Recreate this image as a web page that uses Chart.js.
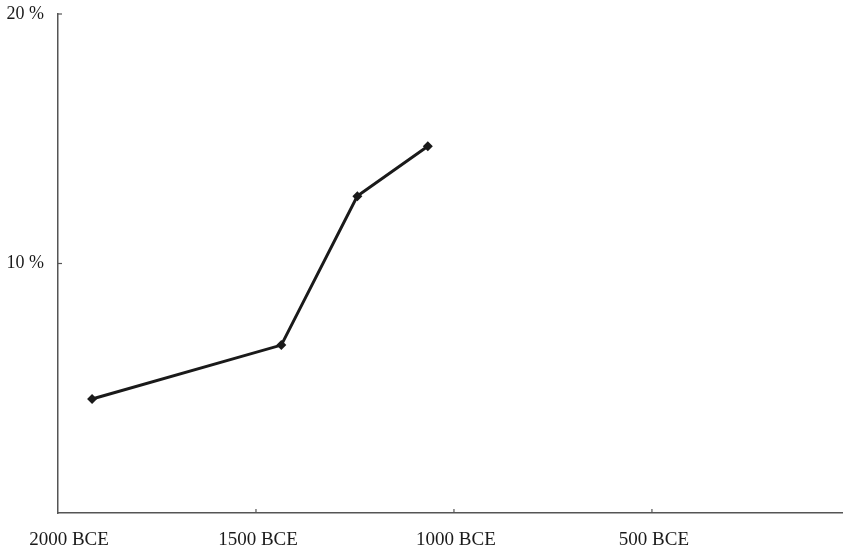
<!DOCTYPE html>
<html>
<head>
<meta charset="utf-8">
<script src="https://cdn.jsdelivr.net/npm/chart.js@4"></script>
<style>
  html, body { margin: 0; padding: 0; background: #fff; }
  #wrap { width: 847px; height: 550px; }
</style>
</head>
<body>
<div id="wrap"><canvas id="chart"></canvas></div>
<script>
// data (year, negative = BCE)
const years = [-1914, -1436, -1244, -1066];
const shares = [4.57, 6.73, 12.7, 14.7];
const xTicks = [-2000, -1500, -1000, -500];
const yTicks = [10, 20];

const serif = '"Liberation Serif", "Times New Roman", serif';

// inward tick marks + x labels drawn through the scales
const axisExtras = {
  id: 'axisExtras',
  afterDraw(chart) {
    const ctx = chart.ctx;
    const xs = chart.scales.x, ys = chart.scales.y;
    const area = chart.chartArea;
    ctx.save();
    ctx.strokeStyle = '#555';
    ctx.lineWidth = 1.2;
    xTicks.forEach(v => {
      if (v === -2000) return;
      const px = xs.getPixelForValue(v);
      ctx.beginPath();
      ctx.moveTo(px, area.bottom);
      ctx.lineTo(px, area.bottom - 4);
      ctx.stroke();
    });
    yTicks.forEach(v => {
      const py = ys.getPixelForValue(v);
      ctx.beginPath();
      ctx.moveTo(area.left, py);
      ctx.lineTo(area.left + 4, py);
      ctx.stroke();
    });
    ctx.fillStyle = '#1a1a1a';
    ctx.font = '19px ' + serif;
    ctx.textAlign = 'center';
    ctx.textBaseline = 'middle';
    xTicks.forEach((v, i) => {
      const px = xs.getPixelForValue(v) + (i === 0 ? 11 : 2);
      ctx.fillText(Math.abs(v) + ' BCE', px, 540);
    });
    ctx.restore();
  }
};

new Chart(document.getElementById('chart').getContext('2d'), {
  type: 'line',
  data: {
    datasets: [{
      data: years.map((y, i) => ({ x: y, y: shares[i] })),
      borderColor: '#1a1a1a',
      backgroundColor: '#1a1a1a',
      borderWidth: 3,
      tension: 0,
      pointStyle: 'rectRot',
      pointRadius: 5,
      pointBackgroundColor: '#1a1a1a',
      pointBorderWidth: 0
    }]
  },
  options: {
    responsive: true,
    maintainAspectRatio: false,
    animation: false,
    layout: { padding: { top: 14, right: 2, left: 0, bottom: 0 } },
    plugins: { legend: { display: false }, tooltip: { enabled: false } },
    scales: {
      x: {
        type: 'linear',
        min: -2000,
        max: -20,
        grid: { display: false },
        border: { display: true, color: '#555', width: 1.5 },
        ticks: { display: false, stepSize: 500 },
        afterFit(scale) { scale.height = 37; }
      },
      y: {
        min: 0,
        max: 20,
        grid: { display: false, drawTicks: false },
        border: { display: true, color: '#555', width: 1.5 },
        ticks: {
          stepSize: 10,
          padding: 14,
          color: '#1a1a1a',
          font: { family: serif, size: 18 },
          callback: v => v === 0 ? '' : v + ' %'
        },
        afterFit(scale) {
          scale.width = 58;
          scale.paddingTop = 0;
          scale.paddingBottom = 0;
        }
      }
    }
  },
  plugins: [axisExtras]
});
</script>
</body>
</html>
